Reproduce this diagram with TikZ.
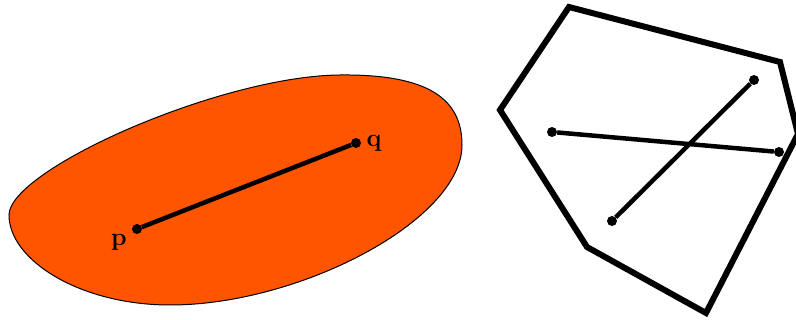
\documentclass[tikz,border=0pt]{standalone}
\usetikzlibrary{positioning}
\definecolor{BlobOrange}{HTML}{FF5500}
\tikzset{
  endpt/.style={circle,fill=black,inner sep=0pt,minimum size=10pt},
  seg/.style={line width=4.5pt},
  lbl/.style={font=\fontsize{25}{30}\selectfont\bfseries}
}
\begin{document}
\begin{tikzpicture}[x=1pt,y=-1pt]
  \useasboundingbox (0,0) rectangle (796,320);
  \draw[fill=BlobOrange,line width=1pt] (9,215)
    .. controls (9,170) and (220,76) .. (340,75)
    .. controls (430,74) and (462,100) .. (462,145)
    .. controls (462,220) and (300,305) .. (170,305)
    .. controls (80,305) and (9,260) .. (9,215) -- cycle;
  \node[endpt] (p) at (137,229) {};
  \node[endpt] (q) at (356,143) {};
  \draw[seg] (p) -- (q);
  \node[lbl,below left=-2pt and 3pt of p] (plab) {p};
  \node[lbl,right=2pt of q] (qlab) {q};
  \draw[line width=6pt,line join=miter] (569,7) -- (780,62) -- (798,134)
    -- (706,313) -- (587,247) -- (500,110) -- cycle;
  \foreach \n/\x/\y in {a/754/80,b/612/221,c/552/132,d/779/152}
    \node[endpt] (\n) at (\x,\y) {};
  \draw[seg] (a) -- (b) (c) -- (d);
\end{tikzpicture}
\end{document}
